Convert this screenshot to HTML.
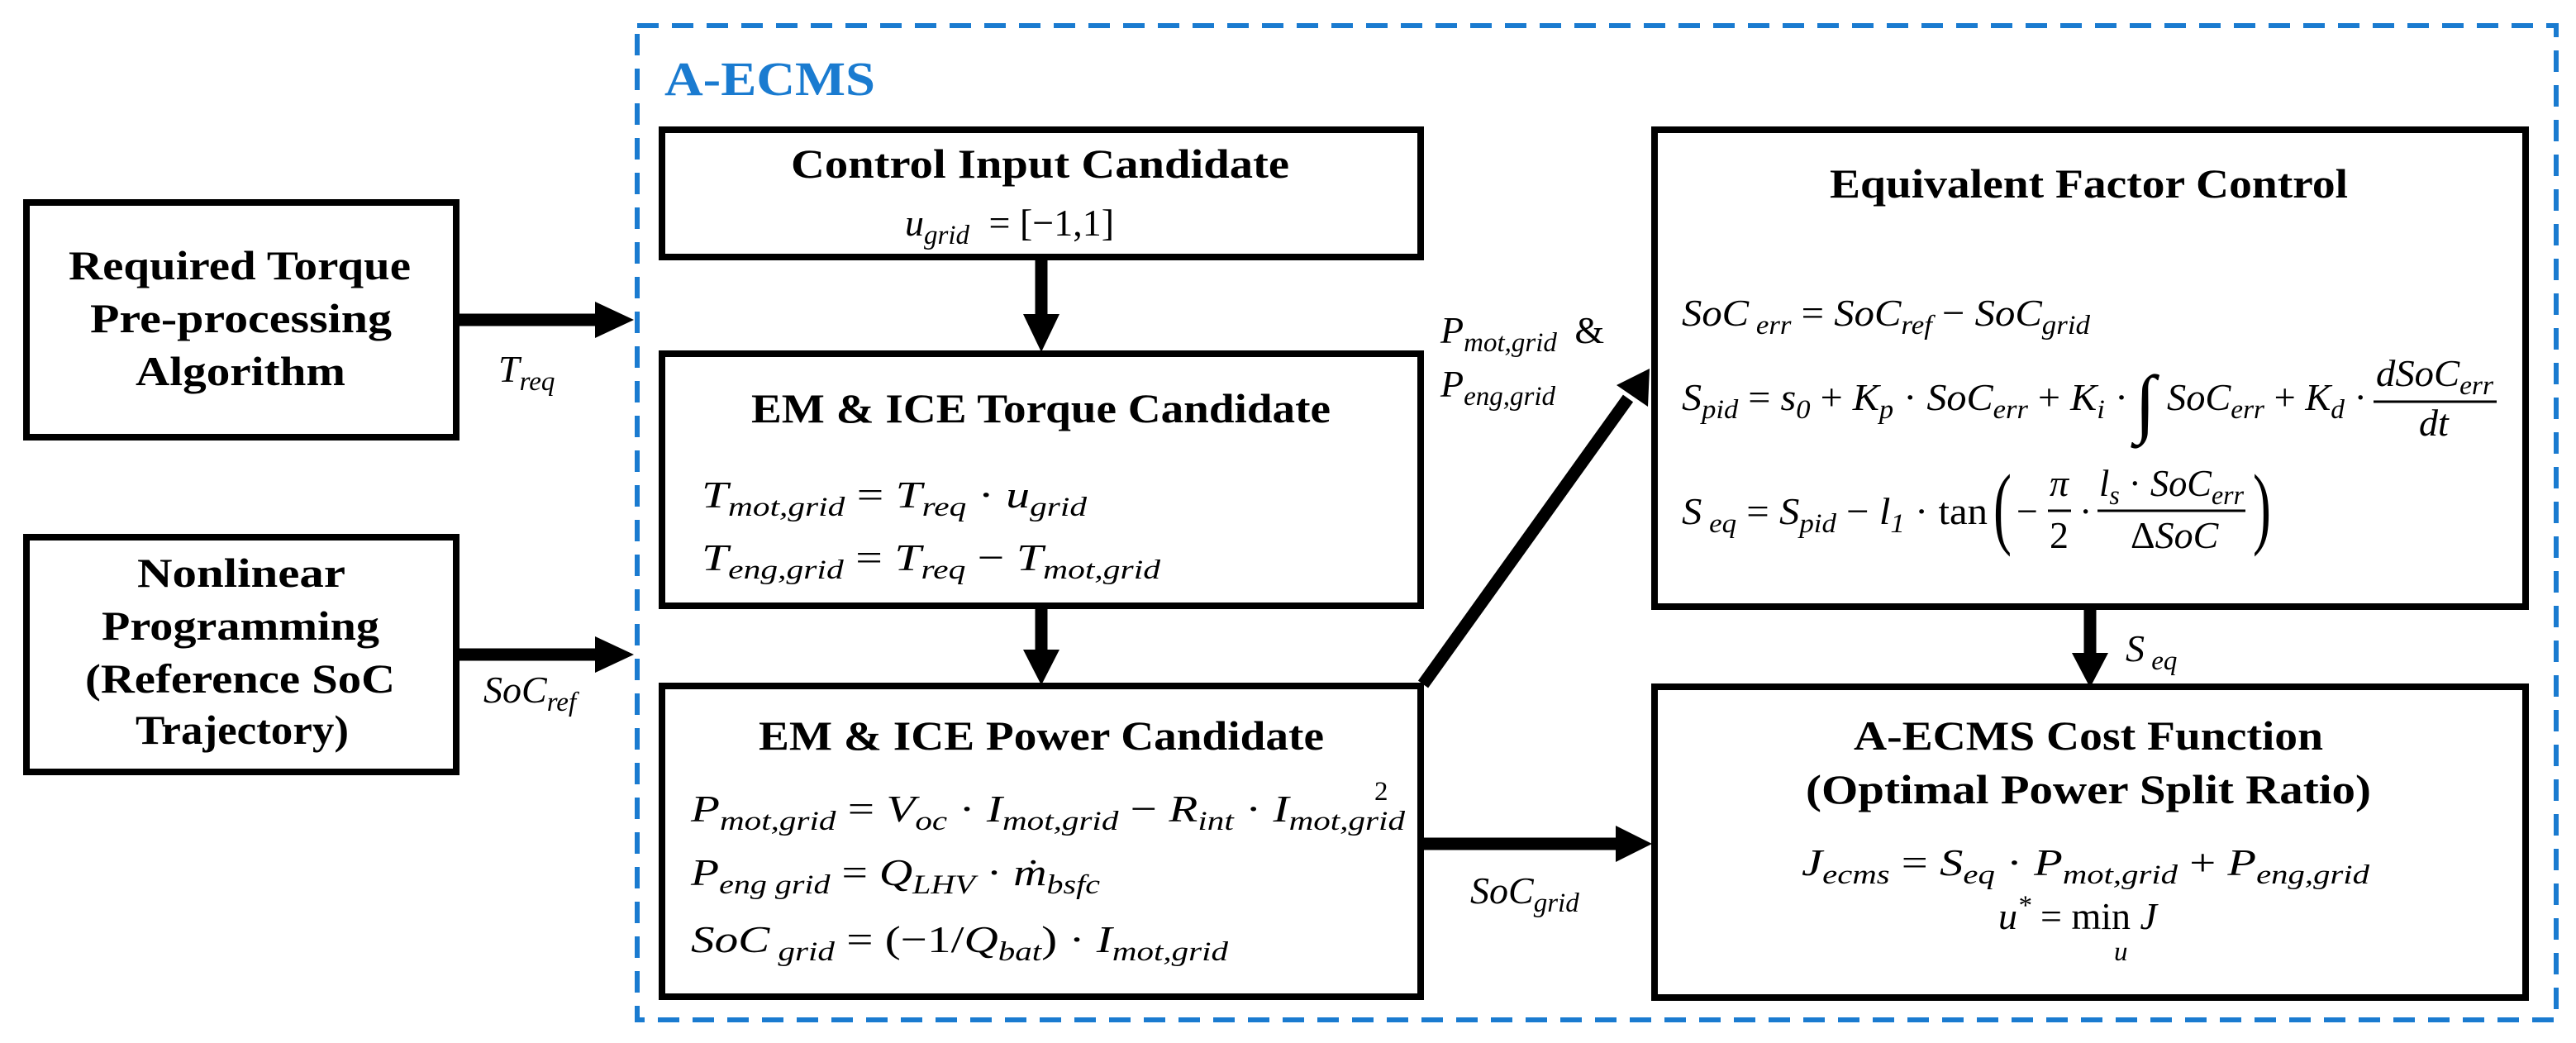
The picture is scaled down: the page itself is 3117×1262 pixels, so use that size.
<!DOCTYPE html>
<html><head><meta charset="utf-8"><style>
html,body{margin:0;padding:0;background:#fff;}
svg{display:block}
.t{font-family:"Liberation Serif",serif;font-weight:bold;font-size:50px;fill:#000}
.m{font-family:"Liberation Serif",serif;font-style:italic;font-size:46px;fill:#000}
.r{font-style:normal}
.s{font-size:33px;baseline-shift:-10px}
.p{font-size:33px;baseline-shift:18px}
</style></head><body>
<svg width="3117" height="1262" viewBox="0 0 3117 1262" xmlns="http://www.w3.org/2000/svg">
<defs>
<marker id="ah" markerWidth="4" markerHeight="4" refX="2.8" refY="2" orient="auto" markerUnits="strokeWidth">
<path d="M0,0.5 L3,2 L0,3.5 Z" fill="#000"/></marker>
</defs>
<!-- dashed container -->
<rect x="771" y="31" width="2322" height="1203" fill="none" stroke="#1a7bd0" stroke-width="6" stroke-dasharray="26,16"/>
<text x="804" y="115" class="t" style="fill:#1a7bd0;font-size:58px" textLength="255" lengthAdjust="spacingAndGlyphs">A-ECMS</text>

<!-- boxes -->
<g fill="none" stroke="#000" stroke-width="8">
<rect x="32" y="245" width="520" height="284"/>
<rect x="32" y="650" width="520" height="284"/>
<rect x="801" y="157" width="918" height="154"/>
<rect x="801" y="428" width="918" height="305"/>
<rect x="801" y="830" width="918" height="376"/>
<rect x="2002" y="157" width="1054" height="577"/>
<rect x="2002" y="831" width="1054" height="376"/>
</g>

<!-- arrows -->
<g stroke="#000" stroke-width="15" fill="none">
<line x1="552" y1="387" x2="728" y2="387"/>
<line x1="552" y1="792" x2="728" y2="792"/>
<line x1="1260" y1="311" x2="1260" y2="385"/>
<line x1="1260" y1="733" x2="1260" y2="790"/>
<line x1="2529" y1="734" x2="2529" y2="795"/>
<line x1="1719" y1="1021" x2="1960" y2="1021"/>
<line x1="1722" y1="828" x2="1970" y2="482"/>
</g>
<g fill="#000">
<polygon points="720,365 767,387 720,409"/>
<polygon points="720,770 767,792 720,814"/>
<polygon points="1238,380 1282,380 1260,426"/>
<polygon points="1238,786 1282,786 1260,829"/>
<polygon points="2507,790 2551,790 2529,832"/>
<polygon points="1955,999 1999,1021 1955,1043"/>
<polygon points="1996,446 1994,492 1956,466"/>
</g>

<!-- left boxes text -->
<text x="83" y="338" class="t" textLength="414" lengthAdjust="spacingAndGlyphs">Required Torque</text>
<text x="109" y="402" class="t" textLength="365" lengthAdjust="spacingAndGlyphs">Pre-processing</text>
<text x="164" y="466" class="t" textLength="254" lengthAdjust="spacingAndGlyphs">Algorithm</text>
<text x="166" y="710" class="t" textLength="252" lengthAdjust="spacingAndGlyphs">Nonlinear</text>
<text x="123" y="774" class="t" textLength="336" lengthAdjust="spacingAndGlyphs">Programming</text>
<text x="103" y="838" class="t" textLength="375" lengthAdjust="spacingAndGlyphs">(Reference SoC</text>
<text x="164" y="900" class="t" textLength="258" lengthAdjust="spacingAndGlyphs">Trajectory)</text>

<text x="603" y="462" class="m">T<tspan class="s">req</tspan></text>
<text x="585" y="850" class="m">SoC<tspan class="s">ref</tspan></text>

<!-- control box -->
<text x="957" y="215" class="t" textLength="603" lengthAdjust="spacingAndGlyphs">Control Input Candidate</text>
<text x="1095" y="285" class="m">u<tspan class="s">grid</tspan><tspan class="r" dx="12"> = [−1,1]</tspan></text>

<!-- torque box -->
<text x="909" y="511" class="t" textLength="701" lengthAdjust="spacingAndGlyphs">EM &amp; ICE Torque Candidate</text>
<text x="849" y="614" class="m" textLength="466" lengthAdjust="spacingAndGlyphs">T<tspan class="s">mot,grid</tspan><tspan class="r"> = </tspan>T<tspan class="s">req</tspan><tspan class="r"> · </tspan>u<tspan class="s">grid</tspan></text>
<text x="849" y="690" class="m" textLength="555" lengthAdjust="spacingAndGlyphs">T<tspan class="s">eng,grid</tspan><tspan class="r"> = </tspan>T<tspan class="s">req</tspan><tspan class="r"> − </tspan>T<tspan class="s">mot,grid</tspan></text>

<!-- power box -->
<text x="918" y="907" class="t" textLength="684" lengthAdjust="spacingAndGlyphs">EM &amp; ICE Power Candidate</text>
<text x="836" y="994" class="m" textLength="864" lengthAdjust="spacingAndGlyphs">P<tspan class="s">mot,grid</tspan><tspan class="r"> = </tspan>V<tspan class="s">oc</tspan><tspan class="r"> · </tspan>I<tspan class="s">mot,grid</tspan><tspan class="r"> − </tspan>R<tspan class="s">int</tspan><tspan class="r"> · </tspan>I<tspan class="s">mot,grid</tspan></text>
<text x="1663" y="968" class="m r" style="font-size:33px">2</text>
<text x="836" y="1071" class="m" textLength="495" lengthAdjust="spacingAndGlyphs">P<tspan class="s">eng grid</tspan><tspan class="r"> = </tspan>Q<tspan class="s">LHV</tspan><tspan class="r"> · </tspan>ṁ<tspan class="s">bsfc</tspan></text>
<text x="836" y="1152" class="m" textLength="650" lengthAdjust="spacingAndGlyphs">SoC<tspan class="s"> grid</tspan><tspan class="r"> = (−1/</tspan>Q<tspan class="s">bat</tspan><tspan class="r">) · </tspan>I<tspan class="s">mot,grid</tspan></text>

<!-- connector labels -->
<text x="1743" y="415" class="m">P<tspan class="s">mot,grid</tspan><tspan class="r" dx="10"> &amp;</tspan></text>
<text x="1743" y="480" class="m">P<tspan class="s">eng,grid</tspan></text>
<text x="1779" y="1093" class="m">SoC<tspan class="s">grid</tspan></text>
<text x="2572" y="800" class="m">S<tspan class="s"> eq</tspan></text>

<!-- EFC -->
<text x="2214" y="239" class="t" textLength="627" lengthAdjust="spacingAndGlyphs">Equivalent Factor Control</text>
<text x="2035" y="394" class="m" textLength="494" lengthAdjust="spacingAndGlyphs">SoC<tspan class="s"> err</tspan><tspan class="r"> = </tspan>SoC<tspan class="s">ref</tspan><tspan class="r"> − </tspan>SoC<tspan class="s">grid</tspan></text>
<text x="2035" y="496" class="m" textLength="540" lengthAdjust="spacingAndGlyphs">S<tspan class="s">pid</tspan><tspan class="r"> = </tspan>s<tspan class="s">0</tspan><tspan class="r"> + </tspan>K<tspan class="s">p</tspan><tspan class="r"> · </tspan>SoC<tspan class="s">err</tspan><tspan class="r"> + </tspan>K<tspan class="s">i</tspan><tspan class="r"> ·</tspan></text>
<text x="2583" y="518" class="m r" style="font-size:92px">∫</text>
<text x="2622" y="496" class="m" textLength="242" lengthAdjust="spacingAndGlyphs">SoC<tspan class="s">err</tspan><tspan class="r"> + </tspan>K<tspan class="s">d</tspan><tspan class="r"> ·</tspan></text>
<text x="2875" y="467" class="m" textLength="142" lengthAdjust="spacingAndGlyphs">dSoC<tspan class="s">err</tspan></text>
<line x1="2872" y1="486" x2="3021" y2="486" stroke="#000" stroke-width="3"/>
<text x="2927" y="527" class="m">dt</text>

<text x="2035" y="634" class="m" textLength="370" lengthAdjust="spacingAndGlyphs">S<tspan class="s"> eq</tspan><tspan class="r"> = </tspan>S<tspan class="s">pid</tspan><tspan class="r"> − </tspan>l<tspan class="s">1</tspan><tspan class="r"> · tan</tspan></text>
<text x="2412" y="650" class="m r" style="font-size:110px;font-weight:normal" transform="translate(2412,650) scale(0.6,1) translate(-2412,-650)">(</text>
<text x="2440" y="634" class="m r">−</text>
<text x="2480" y="600" class="m">π</text>
<line x1="2478" y1="618" x2="2506" y2="618" stroke="#000" stroke-width="3"/>
<text x="2480" y="663" class="m r">2</text>
<text x="2516" y="634" class="m r">·</text>
<text x="2540" y="600" class="m" textLength="175" lengthAdjust="spacingAndGlyphs">l<tspan class="s">s</tspan><tspan class="r"> · </tspan>SoC<tspan class="s">err</tspan></text>
<line x1="2538" y1="618" x2="2717" y2="618" stroke="#000" stroke-width="3"/>
<text x="2578" y="663" class="m"><tspan class="r">Δ</tspan>SoC</text>
<text x="2726" y="650" class="m r" style="font-size:110px;font-weight:normal" transform="translate(2726,650) scale(0.6,1) translate(-2726,-650)">)</text>

<!-- cost -->
<text x="2243" y="907" class="t" textLength="568" lengthAdjust="spacingAndGlyphs">A-ECMS Cost Function</text>
<text x="2185" y="972" class="t" textLength="684" lengthAdjust="spacingAndGlyphs">(Optimal Power Split Ratio)</text>
<text x="2180" y="1059" class="m" textLength="687" lengthAdjust="spacingAndGlyphs">J<tspan class="s">ecms</tspan><tspan class="r"> = </tspan>S<tspan class="s">eq</tspan><tspan class="r"> · </tspan>P<tspan class="s">mot,grid</tspan><tspan class="r"> + </tspan>P<tspan class="s">eng,grid</tspan></text>
<text x="2418" y="1124" class="m">u<tspan class="p">*</tspan><tspan class="r" dy="0"> = min</tspan> J</text>
<text x="2558" y="1162" class="m" style="font-size:33px">u</text>
</svg>
</body></html>
